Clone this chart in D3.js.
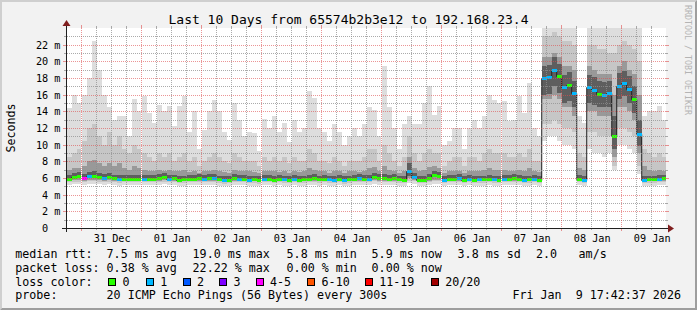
<!DOCTYPE html>
<html><head><meta charset="utf-8">
<script src="https://cdn.jsdelivr.net/npm/d3@7"></script>
<style>
html,body{margin:0;padding:0;background:#f2f2f2;}
svg{display:block;font-family:"DejaVu Sans Mono",monospace;}
text{white-space:pre;}
</style></head><body>
<svg id="c" width="697" height="310" xml:space="preserve"></svg>
<script>
// ---------------- DATA ----------------
const titleText = "Last 10 Days from 65574b2b3e12 to 192.168.23.4";
const yAxisTitle = "Seconds";
const watermark = "RRDTOOL / TOBI OETIKER";
const rangeStart = "2025-12-30T17:42:37Z";
const rangeEnd = "2026-01-09T17:42:37Z";
const dataStart = "2025-12-30T18:00:00Z";
const stepHours = 2;

// top of the smoke (max ping), ms
const smokeMax = [14.4,16,15,
 16,18,22.4,19,16,14.5,13,13.5,13.5,11,15.5,14,
 15.8,13.8,12.6,14.8,14,14.6,12.2,14.6,15.8,11.5,14,9.5,
 11.8,14,15.4,14,11.5,10.6,15,13,11,11.5,11.4,9.3,
 13.1,12,13.4,11.5,12.6,10.3,13,11.5,12,16.5,15.6,12,
 11.5,10.5,12.5,11.5,10,11,12,11,12.5,14.5,14.2,11,
 19.4,14.5,12,9.5,12.5,13.4,12.5,12.5,15,17,13.6,14.7,
 10,10.5,12,12,9.5,12,13,12,13.4,16,15.4,15,
 15.2,12.8,13,15.8,13.8,17.4,12,11,25,25,25,25,
 25,25,25,13.4,12.6,25,25,25,25,24,24,25,
 25,25,25,24,13.4,14,14,14.6,13];
const smokeHi = [8.5,9,9.5,
 10.5,12,12.5,11,10,11.5,10,11,9.5,9,10,9.5,
 9,8.5,8,9,8.5,9,8,8.5,9,8,8.5,7.5,
 8,8.5,9,8.5,8,7.8,9,8.5,8,8,8,7.5,
 8.5,8,8.5,8,8.5,7.8,8.5,8,8,9.5,9,8,
 8,7.8,8.5,8,7.5,8,8,8,8.5,9.5,9.5,8,
 10,9,8,7.5,8.5,11,9,8,9,9.5,9,9,
 7.5,8,8.5,8.5,7.5,8.5,8.5,8,9,9.5,9,9,
 9,8.5,8.5,9,8.5,9.5,8,8,23,23,23.5,23,
 22.5,22.5,22,9,8.5,22,22,21.5,21.5,21,21,22,
 22.5,22,21.5,20,9.5,9,8.5,9,8.5];
const smokeCoreHi = [7,7.2,7.2,
 7.5,8,8.2,7.8,7.5,7.8,7.5,7.8,7.2,7,7.5,7.2,
 7,6.9,6.8,7,6.9,7,6.8,6.8,7,6.7,6.8,6.6,
 6.8,6.9,7,6.9,6.7,6.6,7,6.9,6.8,6.8,6.7,6.6,
 6.9,6.8,6.9,6.7,6.9,6.6,6.9,6.7,6.8,7.2,7,6.8,
 6.8,6.6,6.9,6.8,6.6,6.8,6.8,6.7,6.9,7.2,7.3,6.9,
 7.5,7,6.8,6.6,6.9,8.5,7.2,6.8,7,7.3,7.5,7.2,
 6.6,6.8,6.9,6.9,6.6,6.9,6.9,6.8,7,7.2,7,7,
 7,6.9,6.9,7,6.8,7.2,6.8,6.7,20.5,20.5,21,20.5,
 19.5,19.5,19,7.2,7,19.5,19,18.5,18.5,18.5,16,19.5,
 20,19,18.5,16,7.5,7,6.8,7,6.8];
const smokeInnerHi = [6.4,6.6,6.7,
 6.5,6.7,6.8,6.6,6.5,6.6,6.4,6.4,6.4,6.4,6.4,6.4,
 6.4,6.4,6.4,6.5,6.6,6.4,6.4,6.3,6.3,6.4,6.4,6.5,
 6.4,6.5,6.5,6.3,6.2,6.3,6.5,6.4,6.4,6.3,6.3,6.2,
 6.4,6.4,6.3,6.4,6.3,6.3,6.4,6.3,6.3,6.4,6.5,6.3,
 6.4,6.3,6.3,6.4,6.2,6.3,6.4,6.5,6.4,6.4,6.6,6.5,
 6.5,6.4,6.5,6.3,6.3,7.8,6.6,6.3,6.3,6.5,6.9,6.7,
 6.3,6.4,6.4,6.5,6.3,6.4,6.3,6.3,6.3,6.4,6.3,6.3,
 6.4,6.4,6.5,6.4,6.3,6.3,6.4,6.3,19.5,19.6,20.5,19.7,
 18.4,18.7,17.7,6.4,6.3,18.4,18.1,17.6,17.5,17.7,13.5,18.6,
 18.9,18.2,17,13,6.3,6.3,6.3,6.4,6.4];
const smokeInnerLo = [5.75,5.95,6.05,
 5.85,6.05,6.05,5.95,5.85,5.95,5.8,5.7,5.75,5.75,5.75,5.75,
 5.75,5.75,5.75,5.85,5.95,5.75,5.8,5.65,5.7,5.75,5.75,5.85,
 5.75,5.85,5.85,5.7,5.6,5.65,5.85,5.75,5.75,5.65,5.7,5.6,
 5.75,5.75,5.65,5.75,5.7,5.65,5.75,5.65,5.7,5.75,5.85,5.7,
 5.75,5.7,5.65,5.75,5.6,5.7,5.75,5.85,5.75,5.75,5.95,5.85,
 5.85,5.75,5.85,5.7,5.65,6.2,5.95,5.65,5.65,5.85,6.2,6.05,
 5.65,5.75,5.75,5.85,5.65,5.75,5.65,5.7,5.7,5.75,5.7,5.65,
 5.75,5.75,5.85,5.75,5.65,5.7,5.75,5.65,16,16.1,17,16.2,
 15,15.2,14.5,5.75,5.65,15,14.8,14.5,14.5,14.5,9.5,15.5,
 15.8,15,13.8,9.8,5.65,5.7,5.7,5.75,5.8];
const smokeCoreLo = [5.7,5.8,5.8,
 5.7,5.8,5.8,5.8,5.7,5.8,5.7,5.6,5.7,5.7,5.7,5.7,
 5.7,5.7,5.7,5.7,5.8,5.7,5.7,5.6,5.6,5.7,5.7,5.7,
 5.7,5.7,5.7,5.6,5.5,5.6,5.7,5.7,5.7,5.6,5.6,5.5,
 5.7,5.7,5.6,5.7,5.6,5.6,5.7,5.6,5.6,5.7,5.7,5.6,
 5.7,5.6,5.6,5.7,5.5,5.6,5.7,5.7,5.7,5.7,5.8,5.7,
 5.7,5.7,5.7,5.6,5.6,6.0,5.8,5.6,5.6,5.7,5.8,5.8,
 5.6,5.7,5.7,5.7,5.6,5.7,5.6,5.6,5.6,5.7,5.6,5.6,
 5.7,5.7,5.7,5.7,5.6,5.6,5.7,5.6,15.5,15.5,16,15.5,
 14.5,14.5,13.5,5.7,5.6,14,14,13.5,13.5,13.5,8.5,14.5,
 14.5,14,13,9,5.6,5.6,5.6,5.7,5.7];
const smokeLo = [5.5,5.5,5.5,
 5.5,5.6,5.6,5.5,5.5,5.5,5.5,5.4,5.5,5.5,5.5,5.5,
 5.5,5.5,5.5,5.5,5.5,5.5,5.5,5.4,5.4,5.5,5.5,5.5,
 5.5,5.5,5.5,5.4,5.3,5.4,5.5,5.5,5.5,5.4,5.4,5.3,
 5.5,5.5,5.4,5.5,5.4,5.4,5.5,5.4,5.4,5.5,5.5,5.4,
 5.5,5.4,5.4,5.5,5.3,5.4,5.5,5.5,5.5,5.5,5.6,5.5,
 5.5,5.5,5.5,5.4,5.4,5.7,5.6,5.4,5.4,5.5,5.6,5.6,
 5.4,5.5,5.5,5.5,5.4,5.5,5.4,5.4,5.4,5.5,5.4,5.4,
 5.5,5.5,5.5,5.5,5.4,5.4,5.5,5.4,12.5,12.5,13,12.5,
 12,12,11.5,5.5,5.4,11.5,11.5,11,11,11,7.5,12,
 12,11.5,11,7.5,5.4,5.4,5.4,5.5,5.5];
const smokeMin = [5.2,5.3,5.3,
 5.2,5.3,5.3,5.3,5.2,5.3,5.2,5.1,5.2,5.2,5.2,5.2,
 5.2,5.2,5.2,5.2,5.3,5.2,5.2,5.1,5.1,5.2,5.2,5.2,
 5.2,5.2,5.2,5.1,5.0,5.1,5.2,5.2,5.2,5.1,5.1,5.0,
 5.2,5.2,5.1,5.2,5.1,5.1,5.2,5.1,5.1,5.2,5.2,5.1,
 5.2,5.1,5.1,5.2,5.0,5.1,5.2,5.2,5.2,5.2,5.3,5.2,
 5.2,5.2,5.2,5.1,5.1,5.4,5.3,5.1,5.1,5.2,5.3,5.3,
 5.1,5.2,5.2,5.2,5.1,5.2,5.1,5.1,5.1,5.2,5.1,5.1,
 5.2,5.2,5.2,5.2,5.1,5.1,5.2,5.1,10.5,11,11,10.5,
 10,10,9.5,5.2,5.1,9.5,9,9,8.5,9,7,10,
 10,9.5,9,6.5,5.1,5.1,5.1,5.2,5.2];
const medianRtt = [5.9,6.1,6.2,
 6.0,6.2,6.2,6.1,6.0,6.1,5.95,5.85,5.9,5.9,5.9,5.9,
 5.9,5.9,5.9,6.0,6.1,5.9,5.95,5.8,5.85,5.9,5.9,6.0,
 5.9,6.0,6.0,5.85,5.75,5.8,6.0,5.9,5.9,5.8,5.85,5.75,
 5.9,5.9,5.8,5.9,5.85,5.8,5.9,5.8,5.85,5.9,6.0,5.85,
 5.9,5.85,5.8,5.9,5.75,5.85,5.9,6.0,5.9,5.9,6.1,6.0,
 6.0,5.9,6.0,5.85,5.8,6.9,6.1,5.8,5.8,6.0,6.4,6.2,
 5.8,5.9,5.9,6.0,5.8,5.9,5.8,5.85,5.85,5.9,5.85,5.8,
 5.9,5.9,6.0,5.9,5.8,5.85,5.9,5.8,18.0,18.1,19.0,18.2,
 16.9,17.2,16.2,5.9,5.8,16.9,16.6,16.1,16.0,16.2,11.0,17.1,
 17.4,16.7,15.5,11.3,5.8,5.85,5.85,5.9,5.95];
// lost pings out of 20
const lossCount = [0,0,0,
 4,1,0,0,1,0,0,1,0,0,0,0,
 1,0,0,0,0,1,0,0,0,0,0,0,
 1,0,1,0,1,0,0,1,0,1,0,0,
 1,0,0,0,1,0,1,0,0,0,0,0,
 0,1,1,0,1,0,0,1,0,1,0,0,
 0,0,0,0,0,1,1,0,0,0,0,0,
 1,0,0,1,0,1,0,1,0,0,1,0,
 1,0,0,0,1,0,1,0,1,1,1,0,
 1,0,1,0,1,1,1,0,1,1,0,1,
 1,1,0,1,1,0,0,1,0];
// unknown samples (white slivers)
const gapTimes = ["2025-12-31T00:00:00Z","2026-01-01T00:00:00Z","2026-01-03T00:00:00Z",
                  "2026-01-05T00:00:00Z","2026-01-06T00:00:00Z","2026-01-07T00:00:00Z"];

const yTickValues = [0,2,4,6,8,10,12,14,16,18,20,22];
const yTickLabels = ["0\u00a0\u00a0","2 m","4 m","6 m","8 m","10 m","12 m","14 m","16 m","18 m","20 m","22 m"];
const xTickLabels = ["31 Dec","01 Jan","02 Jan","03 Jan","04 Jan","05 Jan","06 Jan","07 Jan","08 Jan","09 Jan"];

const lossLabels = ["0","1","2","3","4-5","6-10","11-19","20/20"];
const lossColors = ["#26ff00","#00b8ff","#0059ff","#7e00ff","#ff00ff","#ff5500","#ff0000","#a10000"];
const lossThresholds = [1,2,3,4,6,11,20];

const rttLabel = "median rtt:";
const rttStats = ["7.5 ms avg","19.0 ms max","5.8 ms min","5.9 ms now","3.8 ms sd","2.0","am/s"];
const lossLabel = "packet loss:";
const lossStats = ["0.38 % avg","22.22 % max","0.00 % min","0.00 % now"];
const colorLabel = "loss color:";
const probeLabel = "probe:";
const probeText = "20 ICMP Echo Pings (56 Bytes) every 300s";
const dateText = "Fri Jan  9 17:42:37 2026";

// ---------------- LAYOUT ----------------
const W = 697, H = 310;
const X0 = 66, X1 = 666, YB = 228, YT = 28;
const statCols = [106.6,192.6,286.6,371.6,457.6,536,578.6];
const boxX = [108,145.7,182.7,219,256,307.3,365,430.7];
const boxTextX = [122.6,160.3,197,233.6,270,321.6,379.3,445.3];
const rowY = [258.3,271.8,285.6,299.3];
const legendFont = 11.67, axisFont = 10.2, titleFont = 13;

const svg = d3.select("#c");
const x = d3.scaleUtc().domain([new Date(rangeStart), new Date(rangeEnd)]).range([X0, X1]);
const y = d3.scaleLinear().domain([0, 24]).range([YB, YT]);
const lossColor = d3.scaleThreshold().domain(lossThresholds).range(lossColors);

// background and 3d border
svg.append("rect").attr("width", W).attr("height", H).attr("fill", "#f2f2f2");
svg.append("path").attr("d", `M0,0H${W}L${W-2},2H2V${H-2}L0,${H}Z`).attr("fill", "#cfcfcf");
svg.append("path").attr("d", `M${W},0V${H}H0L2,${H-2}H${W-2}V2Z`).attr("fill", "#9e9e9e");

// canvas
svg.append("rect").attr("x", X0).attr("y", YT).attr("width", X1 - X0).attr("height", YB - YT).attr("fill", "#ffffff");
svg.append("clipPath").attr("id", "plot").append("rect")
  .attr("x", X0).attr("y", YT).attr("width", X1 - X0).attr("height", YB - YT);

const start = new Date(dataStart);
const bins = medianRtt.map((m, i) => ({
  t: d3.utcHour.offset(start, i * stepHours),
  t2: d3.utcHour.offset(start, (i + 1) * stepHours),
  med: m, loss: lossCount[i],
  max: smokeMax[i], hi: smokeHi[i], chi: smokeCoreHi[i], ihi: smokeInnerHi[i],
  ilo: smokeInnerLo[i], clo: smokeCoreLo[i], lo: smokeLo[i], min: smokeMin[i]
}));

const plot = svg.append("g").attr("clip-path", "url(#plot)");
const bands = [
  {lo: "min", hi: "max", color: "#dddddd"},
  {lo: "lo", hi: "hi", color: "#c6c6c6"},
  {lo: "clo", hi: "chi", color: "#999999"},
  {lo: "ilo", hi: "ihi", color: "#5e5e5e"}
];
bands.forEach(b => {
  plot.append("g").attr("shape-rendering", "crispEdges").selectAll("rect").data(bins).join("rect")
    .attr("x", d => x(d.t)).attr("width", d => x(d.t2) - x(d.t))
    .attr("y", d => y(d[b.hi])).attr("height", d => y(d[b.lo]) - y(d[b.hi]))
    .attr("fill", b.color);
});

// median line (black) + loss coloured segments
const linePts = bins.map(d => ({t: d.t, v: d.med})).concat([{t: bins[bins.length-1].t2, v: bins[bins.length-1].med}]);
plot.append("path").datum(linePts)
  .attr("d", d3.line().x(d => x(d.t)).y(d => Math.round(y(d.v)) + 0.5).curve(d3.curveStepAfter))
  .attr("fill", "none").attr("stroke", "#202020").attr("stroke-width", 1);
plot.append("g").attr("shape-rendering", "crispEdges").selectAll("rect").data(bins).join("rect")
  .attr("x", d => x(d.t)).attr("width", d => x(d.t2) - x(d.t))
  .attr("y", d => Math.round(y(d.med)) - 1).attr("height", 3)
  .attr("fill", d => lossColor(d.loss));

// unknown data slivers
plot.append("g").attr("shape-rendering", "crispEdges").selectAll("rect").data(gapTimes).join("rect")
  .attr("x", d => Math.floor(x(new Date(d)))).attr("width", 1)
  .attr("y", YT).attr("height", YB - YT).attr("fill", "#ffffff");

// grid
const gridCol = "rgba(143,143,143,0.75)", mgridCol = "rgba(222,79,79,0.6)";
const grid = svg.append("g").attr("shape-rendering", "crispEdges");
const hMinor = d3.range(1, 24), hMajor = yTickValues.filter(v => v > 0);
hMinor.filter(v => v % 2).forEach(v => {
  const yy = Math.round(y(v)) + 0.5;
  grid.append("line").attr("x1", X0 + 1).attr("x2", X1).attr("y1", yy).attr("y2", yy)
    .attr("stroke", gridCol).attr("stroke-dasharray", "1,1");
  grid.append("line").attr("x1", X0 - 2).attr("x2", X0).attr("y1", yy).attr("y2", yy).attr("stroke", gridCol);
  grid.append("line").attr("x1", X1).attr("x2", X1 + 2).attr("y1", yy).attr("y2", yy).attr("stroke", gridCol);
});
hMajor.forEach(v => {
  const yy = Math.round(y(v)) + 0.5;
  grid.append("line").attr("x1", X0 + 1).attr("x2", X1).attr("y1", yy).attr("y2", yy)
    .attr("stroke", mgridCol).attr("stroke-dasharray", "1,1");
  grid.append("line").attr("x1", X0 - 3).attr("x2", X0).attr("y1", yy).attr("y2", yy).attr("stroke", mgridCol);
  grid.append("line").attr("x1", X1).attr("x2", X1 + 3).attr("y1", yy).attr("y2", yy).attr("stroke", mgridCol);
});
const vMinor = d3.utcHour.every(6).range(x.domain()[0], x.domain()[1]).filter(t => t.getUTCHours() !== 0);
const vMajor = d3.utcDay.range(x.domain()[0], x.domain()[1]);
vMinor.forEach(t => {
  const xx = Math.floor(x(t)) + 0.5;
  if (xx <= X0 + 1) return;
  grid.append("line").attr("x1", xx).attr("x2", xx).attr("y1", YT).attr("y2", YB)
    .attr("stroke", gridCol).attr("stroke-dasharray", "1,1");
  grid.append("line").attr("x1", xx).attr("x2", xx).attr("y1", YB).attr("y2", YB + 2).attr("stroke", gridCol);
  grid.append("line").attr("x1", xx).attr("x2", xx).attr("y1", YT - 2).attr("y2", YT).attr("stroke", gridCol);
});
vMajor.forEach(t => {
  const xx = Math.floor(x(t)) + 0.5;
  grid.append("line").attr("x1", xx).attr("x2", xx).attr("y1", YT).attr("y2", YB)
    .attr("stroke", mgridCol).attr("stroke-dasharray", "1,1");
  grid.append("line").attr("x1", xx).attr("x2", xx).attr("y1", YB).attr("y2", YB + 3).attr("stroke", mgridCol);
  grid.append("line").attr("x1", xx).attr("x2", xx).attr("y1", YT - 3).attr("y2", YT).attr("stroke", mgridCol);
});

// axes lines and arrows
const axisCol = "#1f1f1f", arrowCol = "#801f1f";
svg.append("line").attr("x1", X0 + 0.5).attr("x2", X0 + 0.5).attr("y1", YB + 4).attr("y2", YT - 4)
  .attr("stroke", axisCol).attr("shape-rendering", "crispEdges");
svg.append("line").attr("x1", X0 - 4).attr("x2", X1 + 4).attr("y1", YB + 0.5).attr("y2", YB + 0.5)
  .attr("stroke", axisCol).attr("shape-rendering", "crispEdges");
svg.append("path").attr("d", `M${X1+2},${YB-3.5}L${X1+8},${YB+0.5}L${X1+2},${YB+4.5}Z`).attr("fill", arrowCol);
svg.append("path").attr("d", `M${X0-3.5},${YT-2}L${X0+0.5},${YT-8}L${X0+4.5},${YT-2}Z`).attr("fill", arrowCol);

// y axis labels
const yAxis = svg.append("g").attr("transform", `translate(${X0 - 5.5},0)`)
  .call(d3.axisLeft(y).tickValues(yTickValues).tickSize(0).tickPadding(0)
    .tickFormat((d, i) => yTickLabels[i]));
yAxis.select(".domain").remove();
yAxis.selectAll("text").attr("dy", "3.6").attr("x", 0)
  .attr("font-family", "DejaVu Sans Mono").attr("font-size", axisFont).attr("fill", "#000");

// x axis labels at noon
const noonTicks = vMajor.map(t => d3.utcHour.offset(t, 12)).filter(t => x(t) < X1);
const xAxis = svg.append("g")
  .call(d3.axisBottom(x).tickValues(noonTicks).tickSize(0).tickPadding(0)
    .tickFormat((d, i) => xTickLabels[i]));
xAxis.select(".domain").remove();
xAxis.selectAll("text").attr("y", 242).attr("dy", null)
  .attr("font-family", "DejaVu Sans Mono").attr("font-size", axisFont).attr("fill", "#000");

// title
svg.append("text").attr("x", W / 2).attr("y", 23.5).attr("text-anchor", "middle")
  .attr("font-size", titleFont).attr("fill", "#000").text(titleText);
// y title
svg.append("text").attr("transform", `translate(14.5,${(YT + YB) / 2}) rotate(-90)`)
  .attr("text-anchor", "middle").attr("font-size", legendFont).attr("fill", "#000").text(yAxisTitle);
// watermark
svg.append("text").attr("transform", "translate(685,5) rotate(90)")
  .attr("font-size", 8.3).attr("fill", "#b4b4b4").text(watermark);

// legend
const leg = svg.append("g").attr("font-size", legendFont).attr("fill", "#000");
leg.append("text").attr("x", 15.3).attr("y", rowY[0]).text(rttLabel);
rttStats.forEach((s, i) => leg.append("text").attr("x", statCols[i]).attr("y", rowY[0]).text(s));
leg.append("text").attr("x", 15.3).attr("y", rowY[1]).text(lossLabel);
lossStats.forEach((s, i) => leg.append("text").attr("x", statCols[i]).attr("y", rowY[1]).text(s));
leg.append("text").attr("x", 15.3).attr("y", rowY[2]).text(colorLabel);
lossLabels.forEach((s, i) => {
  leg.append("rect").attr("x", Math.round(boxX[i]) + 0.5).attr("y", 278.5).attr("width", 7).attr("height", 7)
    .attr("fill", lossColors[i]).attr("stroke", "#000").attr("stroke-width", 1);
  leg.append("text").attr("x", boxTextX[i]).attr("y", rowY[2]).text(s);
});
leg.append("text").attr("x", 15.3).attr("y", rowY[3]).text(probeLabel);
leg.append("text").attr("x", statCols[0]).attr("y", rowY[3]).text(probeText);
leg.append("text").attr("x", 512.5).attr("y", rowY[3]).text(dateText);
</script>
</body></html>
